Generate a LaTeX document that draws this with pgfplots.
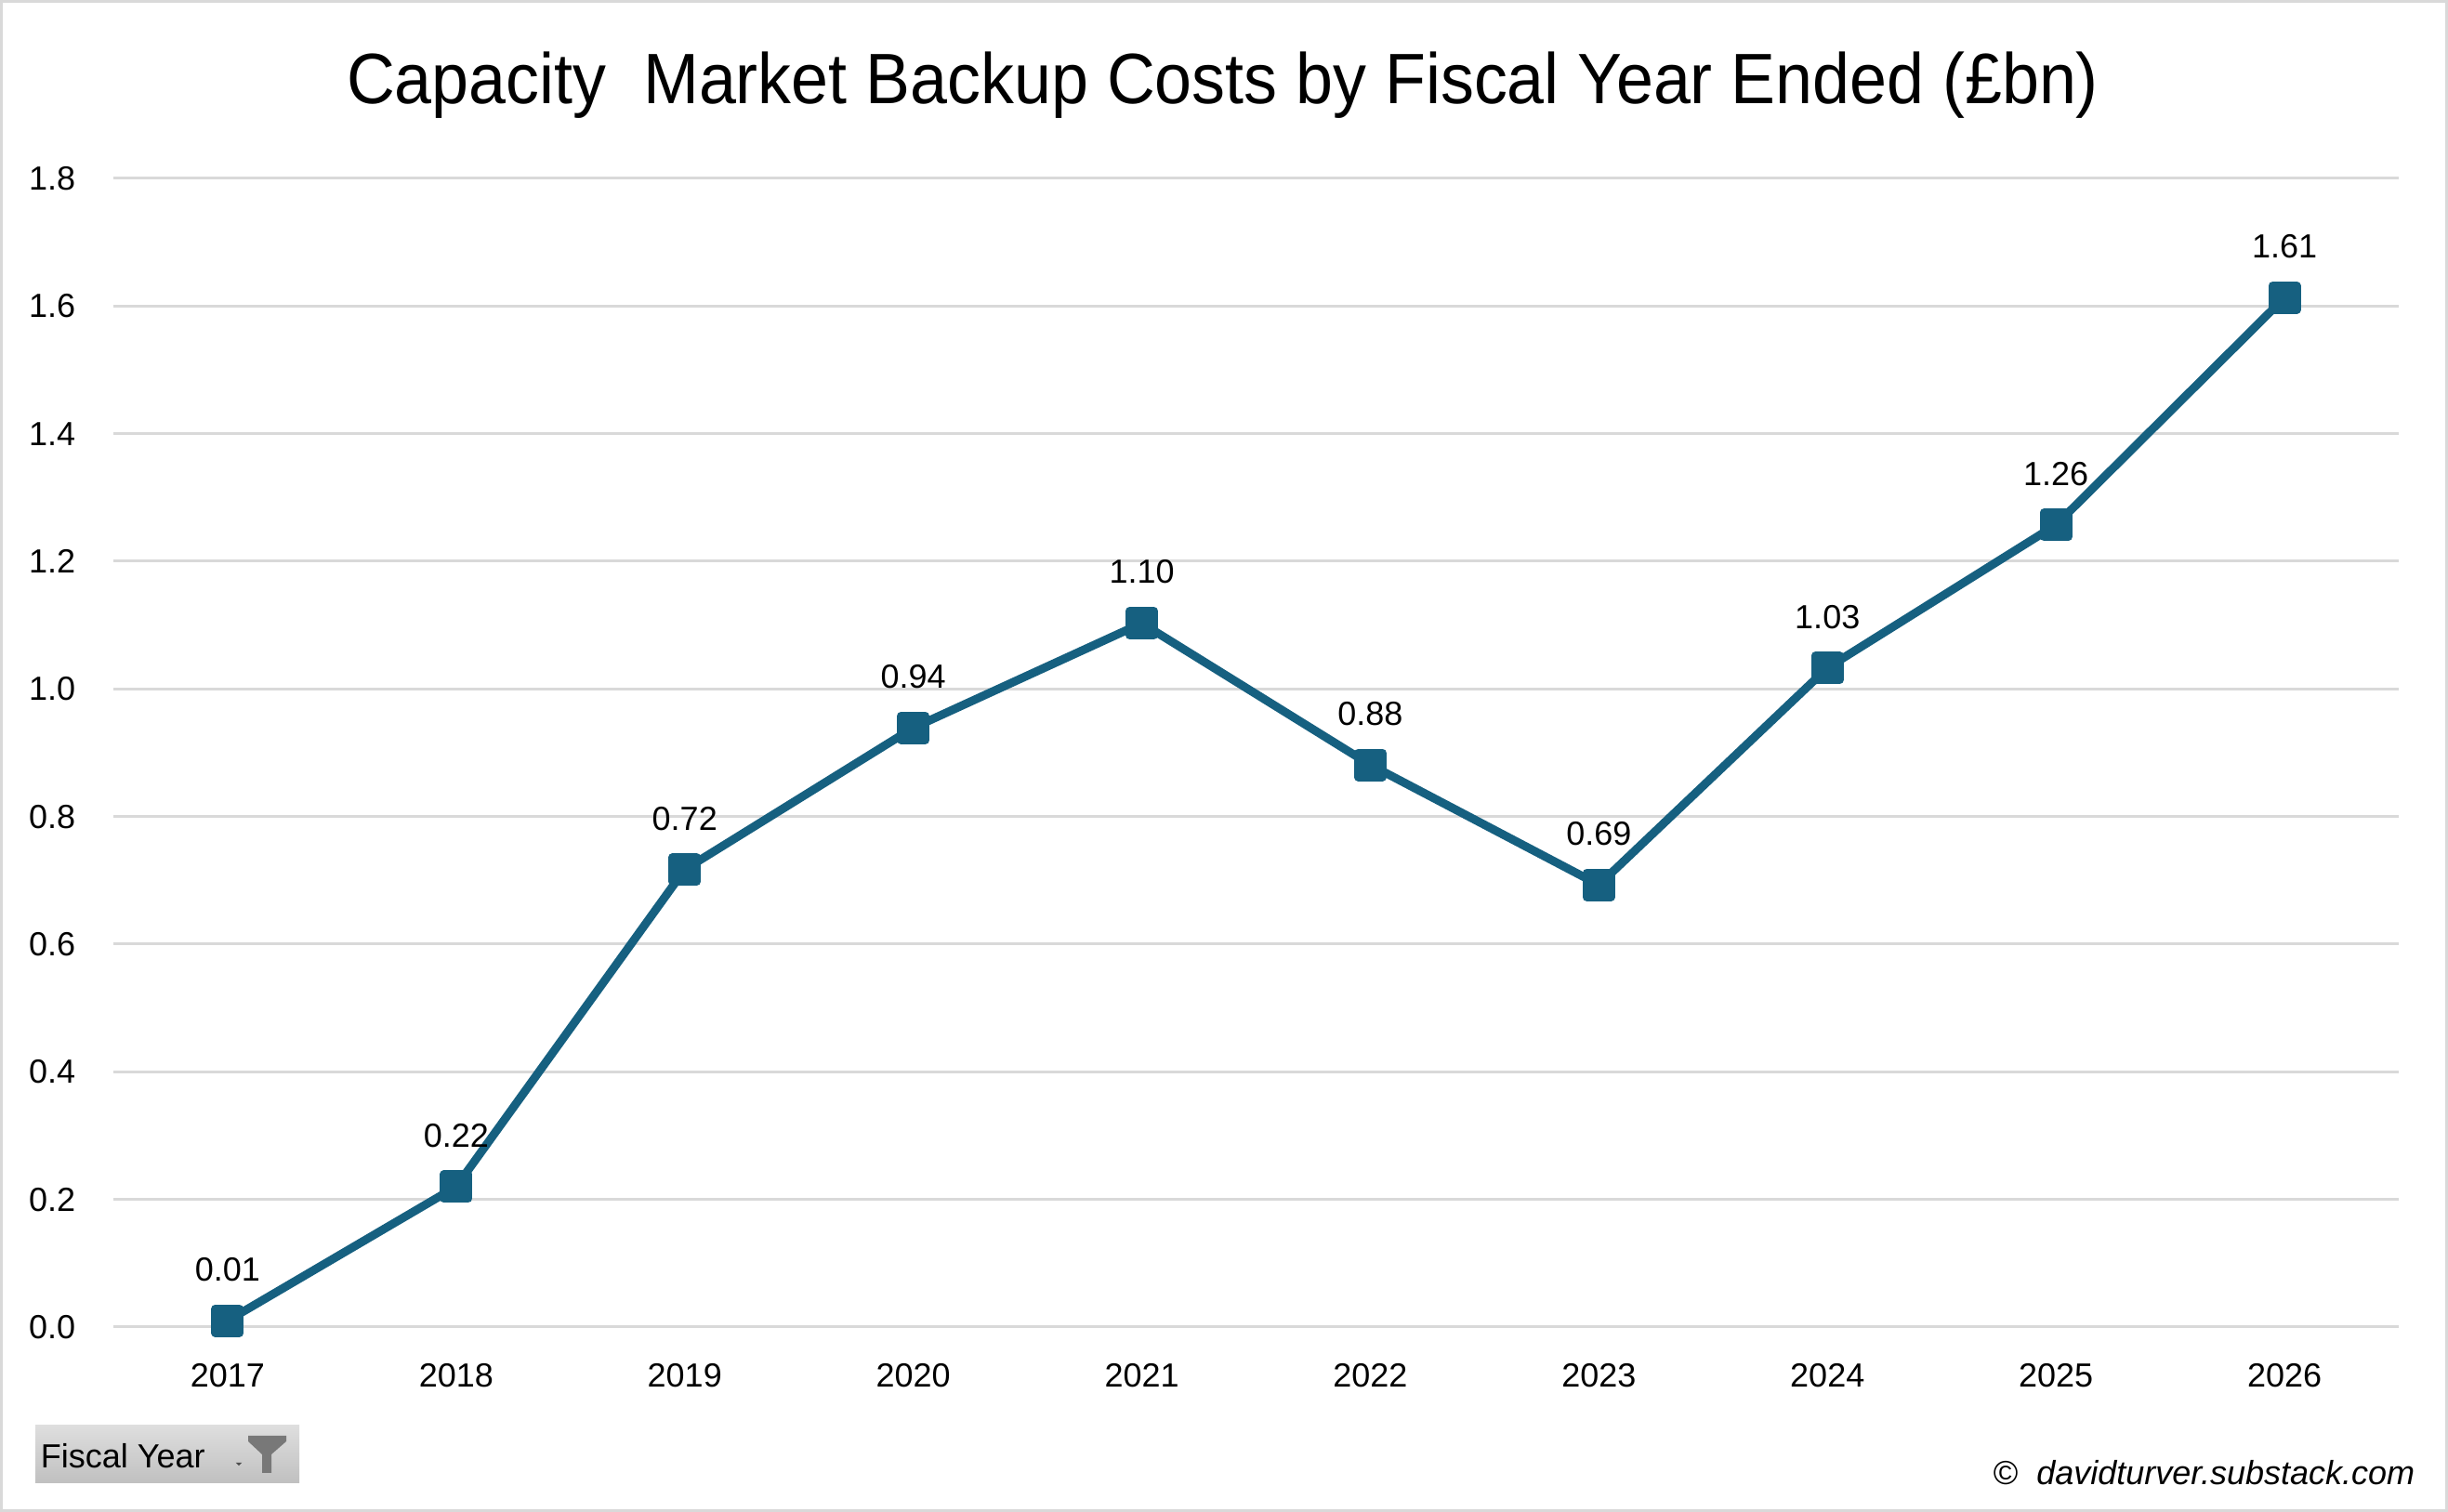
\documentclass[border=0pt]{standalone}
\usepackage{pgfplots}
\pgfplotsset{compat=1.18}
\usepackage{fontspec}
\setmainfont{Liberation Sans}
\definecolor{lineblue}{RGB}{22,96,128}
\definecolor{gridgray}{RGB}{217,217,217}
\definecolor{btntop}{RGB}{222,222,222}
\definecolor{btnbot}{RGB}{192,192,192}
\definecolor{funnel}{RGB}{120,120,120}
\begin{document}
\begin{tikzpicture}
\path[use as bounding box] (0,0) rectangle (658.5pt,406.75pt);
\fill[white] (0,0) rectangle (658.5pt,406.75pt);
\draw[gridgray, line width=0.75pt] (0.375pt,0.375pt) rectangle (658.125pt,406.375pt);
\begin{axis}[
  at={(30.5pt,49.75pt)}, anchor=south west,
  width=614.75pt, height=309pt, scale only axis,
  xmin=-0.5, xmax=9.5, ymin=0, ymax=1.8,
  xtick={0,1,2,3,4,5,6,7,8,9},
  xticklabels={2017,2018,2019,2020,2021,2022,2023,2024,2025,2026},
  ytick={0,0.2,0.4,0.6,0.8,1.0,1.2,1.4,1.6,1.8},
  major tick length=0pt,
  axis line style={draw=none},
  ymajorgrids, grid style={gridgray, line width=0.75pt},
  tick label style={font=\fontsize{9}{10}\selectfont, inner sep=0pt},
  yticklabel style={/pgf/number format/.cd, fixed, fixed zerofill, precision=1, assume math mode=true},
  xticklabel shift=9.75pt, yticklabel shift=10pt,
  clip=false,
]
\addplot[lineblue, line width=2.25pt, line join=round,
  mark=square*, mark size=3.25pt, mark options={draw=none, fill=lineblue},
  nodes near coords={\pgfmathprintnumber[fixed,fixed zerofill,precision=2,assume math mode=true]{\pgfplotspointmeta}},
  nodes near coords style={anchor=center, yshift=13.75pt, text=black, font=\fontsize{9}{10}\selectfont, inner sep=0pt}]
coordinates {(0,0.01) (1,0.22) (2,0.717) (3,0.939) (4,1.103) (5,0.881) (6,0.693) (7,1.033) (8,1.257) (9,1.613)};
\end{axis}
% title
\node[anchor=base, inner sep=0pt] at (328.9pt,378.75pt)
  {\resizebox{471.25pt}{\height}{\fontsize{19.2}{22}\selectfont Capacity\ \ Market Backup Costs by Fiscal Year Ended (£bn)}};
% copyright
\node[anchor=base east, inner sep=0pt] at (649.75pt,7.25pt)
  {\fontsize{9}{10}\selectfont ©\ \ \itshape davidturver.substack.com};
% Fiscal Year button
\shade[top color=btntop, bottom color=btnbot] (9.5pt,7.75pt) rectangle (80.5pt,23.25pt);
\node[anchor=base west, inner sep=0pt] at (10.75pt,11.75pt) {\fontsize{9}{10}\selectfont Fiscal Year};
\fill[funnel] (66.75pt,20.5pt) -- (77pt,20.5pt) -- (77pt,19pt) -- (73pt,15.5pt) -- (73pt,10.5pt)
  -- (70.5pt,10.5pt) -- (70.5pt,15.5pt) -- (66.75pt,19pt) -- cycle;
\fill[black!70] (63.4pt,13.3pt) -- (65.1pt,13.3pt) -- (64.25pt,12.45pt) -- cycle;
\end{tikzpicture}
\end{document}
